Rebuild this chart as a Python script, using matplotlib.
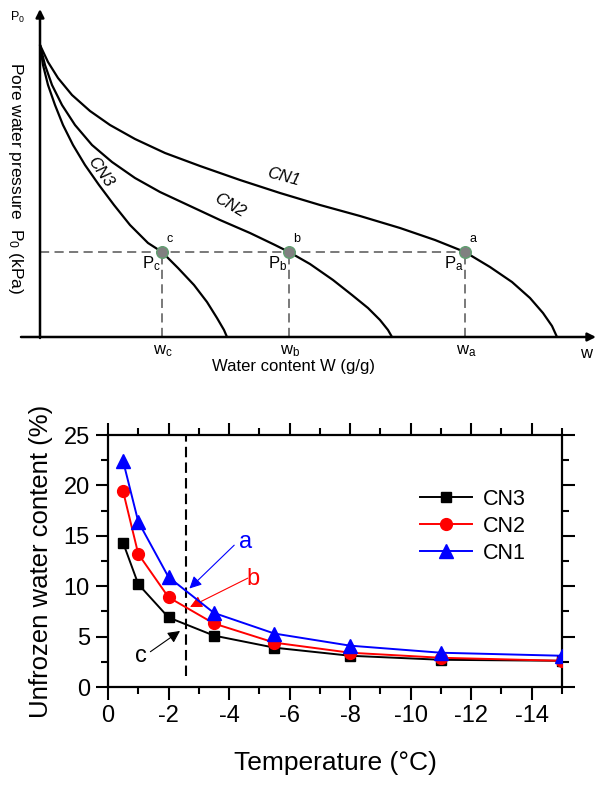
import matplotlib
matplotlib.use("Agg")
import matplotlib.pyplot as plt
from matplotlib.ticker import MultipleLocator

plt.rcParams['font.family'] = ['Liberation Sans', 'DejaVu Sans']
plt.rcParams['mathtext.fontset'] = 'custom'
plt.rcParams['mathtext.rm'] = 'Liberation Sans'
plt.rcParams['mathtext.it'] = 'Liberation Sans:italic'
plt.rcParams['mathtext.bf'] = 'Liberation Sans:bold'
plt.rcParams['axes.unicode_minus'] = False

# ---------------- schematic (top) data, relative units ----------------
cn1_w = [0, 8, 18, 32, 50, 70, 95, 125, 160, 200, 240, 280, 320, 360, 395, 425, 450, 472, 490, 503, 512, 517]
cn1_p = [292, 275, 259, 242, 226, 212, 198, 184, 171, 157, 144, 132, 121, 109, 97, 85, 70, 55, 39, 24, 11, 0]
cn2_w = [0, 5, 12, 22, 35, 52, 72, 95, 120, 150, 180, 210, 235, 249, 270, 293, 312, 328, 340, 348, 352]
cn2_p = [292, 272, 252, 232, 212, 192, 175, 159, 145, 131, 117, 104, 92, 85, 73, 57, 42, 29, 17, 7, 0]
cn3_w = [0, 3, 8, 15, 23, 33, 45, 59, 74, 90, 108, 122, 138, 154, 167, 177, 184, 187]
cn3_p = [292, 272, 252, 232, 212, 192, 172, 152, 132, 112, 94, 85, 69, 52, 35, 19, 7, 0]
point_names = ['c', 'b', 'a']
point_w = [122, 249, 425]
p_level = 85

# ---------------- measured (bottom) data ----------------
temperature = [-0.5, -1, -2, -3.5, -5.5, -8, -11, -15]
cn3_vals = [14.3, 10.2, 6.9, 5.1, 3.9, 3.1, 2.7, 2.6]
cn2_vals = [19.4, 13.2, 8.9, 6.3, 4.4, 3.4, 2.9, 2.6]
cn1_vals = [22.4, 16.4, 10.9, 7.35, 5.3, 4.1, 3.4, 3.1]
x_ticks = [0, -2, -4, -6, -8, -10, -12, -14]
y_ticks = [0, 5, 10, 15, 20, 25]
t_line = -2.57

fig = plt.figure(figsize=(6, 7.9), dpi=100)

# ================= top schematic =================
ax1 = fig.add_axes([0, 400 / 790, 1, 390 / 790])
ax1.set_xlim(-40, 560)
ax1.set_ylim(-53, 337)
ax1.axis('off')

for w, p in [(cn1_w, cn1_p), (cn2_w, cn2_p), (cn3_w, cn3_p)]:
    ax1.plot(w, p, color='black', lw=1.6, solid_capstyle='round', solid_joinstyle='round', zorder=3)

# axes with arrows
ax1.annotate('', xy=(0, 328), xytext=(0, -1),
             arrowprops=dict(arrowstyle='-|>', color='black', lw=1.8, mutation_scale=12, shrinkA=0, shrinkB=0))
ax1.annotate('', xy=(556, 0), xytext=(-19, 0),
             arrowprops=dict(arrowstyle='-|>', color='black', lw=1.8, mutation_scale=12, shrinkA=0, shrinkB=0))

# dashed guide lines
ax1.plot([0, point_w[-1]], [p_level, p_level], color='#555555', lw=1.1, ls=(0, (6, 3.5)), zorder=2)
for w in point_w:
    ax1.plot([w, w], [0, p_level], color='#555555', lw=1.1, ls=(0, (6, 3.5)), zorder=2)
ax1.scatter(point_w, [p_level] * 3, s=70, color='#808080', edgecolors='#5f9f6f', linewidths=1.0, zorder=4)

for name, w in zip(point_names, point_w):
    ax1.text(w + 8, p_level + 13, name, fontsize=9, ha='center', va='center')
    ax1.text(w - 11, p_level - 12, r'P$_\mathrm{%s}$' % name, fontsize=12, ha='center', va='center')
    ax1.text(w + 1, -14, r'w$_\mathrm{%s}$' % name, fontsize=12, ha='center', va='center')

ax1.text(546, -16, 'w', fontsize=12, ha='center', va='center')
ax1.text(254, -30, 'Water content W (g/g)', fontsize=12, ha='center', va='center')
ax1.text(-22, 320, r'P$_\mathrm{0}$', fontsize=9, ha='center', va='center')
ax1.text(-25, 159, r'Pore water pressure  P$_\mathrm{0}$ (kPa)', fontsize=12.5,
         rotation=-90, ha='center', va='center')

ax1.text(243, 160, 'CN1', fontsize=12, style='italic', rotation=-15, ha='center', va='center')
ax1.text(190, 132, 'CN2', fontsize=12, style='italic', rotation=-30, ha='center', va='center')
ax1.text(60, 165, 'CN3', fontsize=12, style='italic', rotation=-55, ha='center', va='center')

# ================= bottom chart =================
ax2 = fig.add_axes([108 / 600, 103 / 790, 454 / 600, 252 / 790])
ax2.plot(temperature, cn3_vals, color='black', marker='s', ms=7.5, lw=1.4, label='CN3', zorder=3)
ax2.plot(temperature, cn2_vals, color='red', marker='o', ms=8.5, lw=1.4, label='CN2', zorder=4)
ax2.plot(temperature, cn1_vals, color='blue', marker='^', ms=9.5, lw=1.4, label='CN1', zorder=5)

ax2.plot([t_line, t_line], [1.1, 24.9], color='black', lw=1.5, ls=(0, (5, 2.5)), zorder=2)

ax2.set_xlim(0, -15)
ax2.set_ylim(0, 25)
ax2.set_xticks(x_ticks)
ax2.set_xticklabels([str(v) for v in x_ticks])
ax2.set_yticks(y_ticks)
ax2.xaxis.set_minor_locator(MultipleLocator(1))
ax2.yaxis.set_minor_locator(MultipleLocator(2.5))
ax2.tick_params(which='both', direction='out', top=True, right=True, width=1.5)
ax2.tick_params(which='major', length=9, labelsize=17, pad=4)
ax2.tick_params(which='minor', length=5)
for s in ax2.spines.values():
    s.set_linewidth(1.6)

ax2.set_xlabel('Temperature (°C)', fontsize=19, labelpad=17)
ax2.set_ylabel('Unfrozen water content (%)', fontsize=18.5, labelpad=8)

ax2.legend(loc='upper left', bbox_to_anchor=(0.687, 0.786), frameon=False, fontsize=15.5,
           handlelength=2.42, handletextpad=0.5, labelspacing=0.28, borderpad=0, borderaxespad=0)

# annotation arrows
ax2.annotate('', xy=(-2.69, 9.77), xytext=(-4.17, 14.07),
             arrowprops=dict(arrowstyle='-|>', color='blue', lw=0.8, mutation_scale=18, shrinkA=0, shrinkB=0))
ax2.text(-4.55, 14.4, 'a', color='blue', fontsize=17, ha='center', va='center')
ax2.annotate('', xy=(-2.71, 7.94), xytext=(-4.62, 10.8),
             arrowprops=dict(arrowstyle='-|>', color='red', lw=0.8, mutation_scale=18, shrinkA=0, shrinkB=0))
ax2.text(-4.8, 10.7, 'b', color='red', fontsize=17, ha='center', va='center')
ax2.annotate('', xy=(-2.38, 5.56), xytext=(-1.4, 3.5),
             arrowprops=dict(arrowstyle='-|>', color='black', lw=0.8, mutation_scale=18, shrinkA=0, shrinkB=0))
ax2.text(-1.1, 3.1, 'c', color='black', fontsize=17, ha='center', va='center')

fig.savefig('out.png', dpi=100)
